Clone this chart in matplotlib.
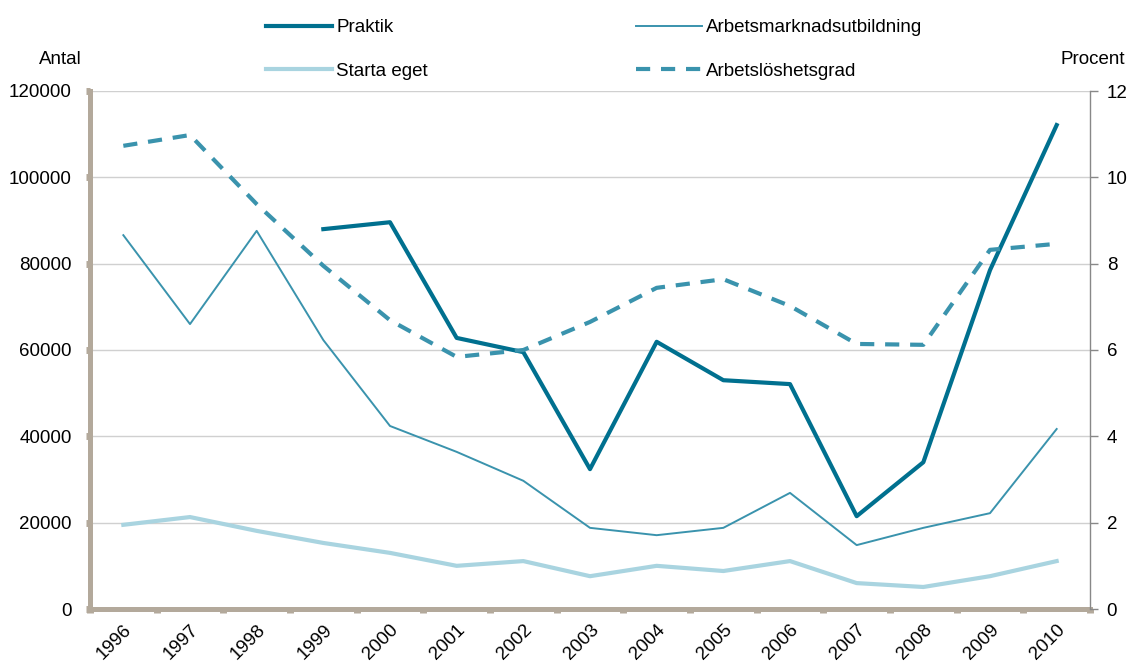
import matplotlib.pyplot as plt
from matplotlib.ticker import MultipleLocator
import numpy as np

plt.rcParams['font.family'] = ['Liberation Sans', 'DejaVu Sans']

# Data
years = ['1996', '1997', '1998', '1999', '2000', '2001', '2002', '2003',
         '2004', '2005', '2006', '2007', '2008', '2009', '2010']
praktik = [np.nan, np.nan, np.nan, 88000, 89600, 62800, 59500, 32400,
           61900, 53000, 52100, 21500, 34000, 78500, 112100]
arbetsmarknad = [86600, 66000, 87600, 62300, 42400, 36400, 29700, 18800,
                 17100, 18800, 26900, 14800, 18800, 22200, 41700]
starta_eget = [19500, 21300, 18100, 15300, 13000, 10000, 11100, 7600,
               10000, 8800, 11100, 6000, 5100, 7600, 11100]
arbetsloshet = [10.73, 10.98, 9.38, 7.95, 6.69, 5.84, 6.00, 6.65,
                7.44, 7.64, 7.02, 6.14, 6.12, 8.32, 8.46]

dark = '#00708f'
mid = '#3a93ad'
light = '#a9d4e0'
tan = '#b3a99b'
fs = 13.5

fig = plt.figure(figsize=(11.31, 6.62), dpi=100)
ax = fig.add_axes([90 / 1131, 1 - 609 / 662, 1000 / 1131, 518 / 662])
ax2 = ax.twinx()

x = np.arange(len(years))

ax.grid(axis='y', color='#d0d0d0', linewidth=1)
ax.set_axisbelow(True)

l1, = ax.plot(x, praktik, color=dark, linewidth=3, label='Praktik', zorder=4)
l2, = ax.plot(x, arbetsmarknad, color=mid, linewidth=1.4, label='Arbetsmarknadsutbildning', zorder=3)
l3, = ax.plot(x, starta_eget, color=light, linewidth=3, label='Starta eget', zorder=3)
l4, = ax2.plot(x, arbetsloshet, color=mid, linewidth=3, linestyle=(0, (3.4, 2.6)),
               label='Arbetslöshetsgrad', zorder=3)

ax.set_xlim(-0.5, len(years) - 0.5)
ax.set_ylim(0, 120000)
ax2.set_ylim(0, 12)
ax.yaxis.set_major_locator(MultipleLocator(20000))
ax2.yaxis.set_major_locator(MultipleLocator(2))

ax.set_xticks(x)
ax.set_xticklabels(years, rotation=45, ha='right', rotation_mode='anchor', fontsize=fs)
ax.set_xticks(np.arange(-0.5, len(years)), minor=True)
ax.tick_params(axis='x', which='major', length=0, pad=9)
ax.tick_params(axis='x', which='minor', length=3, width=5, color=tan)
ax.tick_params(axis='y', length=3, width=5, color=tan, labelsize=fs, pad=10)
ax2.tick_params(axis='y', length=6, width=1, color='#888888', labelsize=fs, pad=6)

for a in (ax, ax2):
    a.spines['top'].set_visible(False)
ax.spines['left'].set_color(tan)
ax.spines['left'].set_linewidth(3.6)
ax.spines['bottom'].set_color(tan)
ax.spines['bottom'].set_linewidth(3.6)
ax.spines['right'].set_visible(False)
ax2.spines['left'].set_visible(False)
ax2.spines['bottom'].set_visible(False)
ax2.spines['right'].set_color('#888888')
ax2.spines['right'].set_linewidth(1)

fig.text(60 / 1131, 1 - 60 / 662, 'Antal', ha='center', va='center', fontsize=fs)
fig.text(1093 / 1131, 1 - 60 / 662, 'Procent', ha='center', va='center', fontsize=fs)

fig.legend([l1, l3, l2, l4],
           ['Praktik', 'Starta eget', 'Arbetsmarknadsutbildning', 'Arbetslöshetsgrad'],
           ncol=2, loc='upper left', bbox_to_anchor=(266 / 1131, 1 - 19 / 662),
           frameon=False, fontsize=fs, handlelength=3.5, handletextpad=0.25,
           columnspacing=11.1, labelspacing=1.4, borderpad=0, borderaxespad=0)

fig.savefig('out.png', dpi=100)
